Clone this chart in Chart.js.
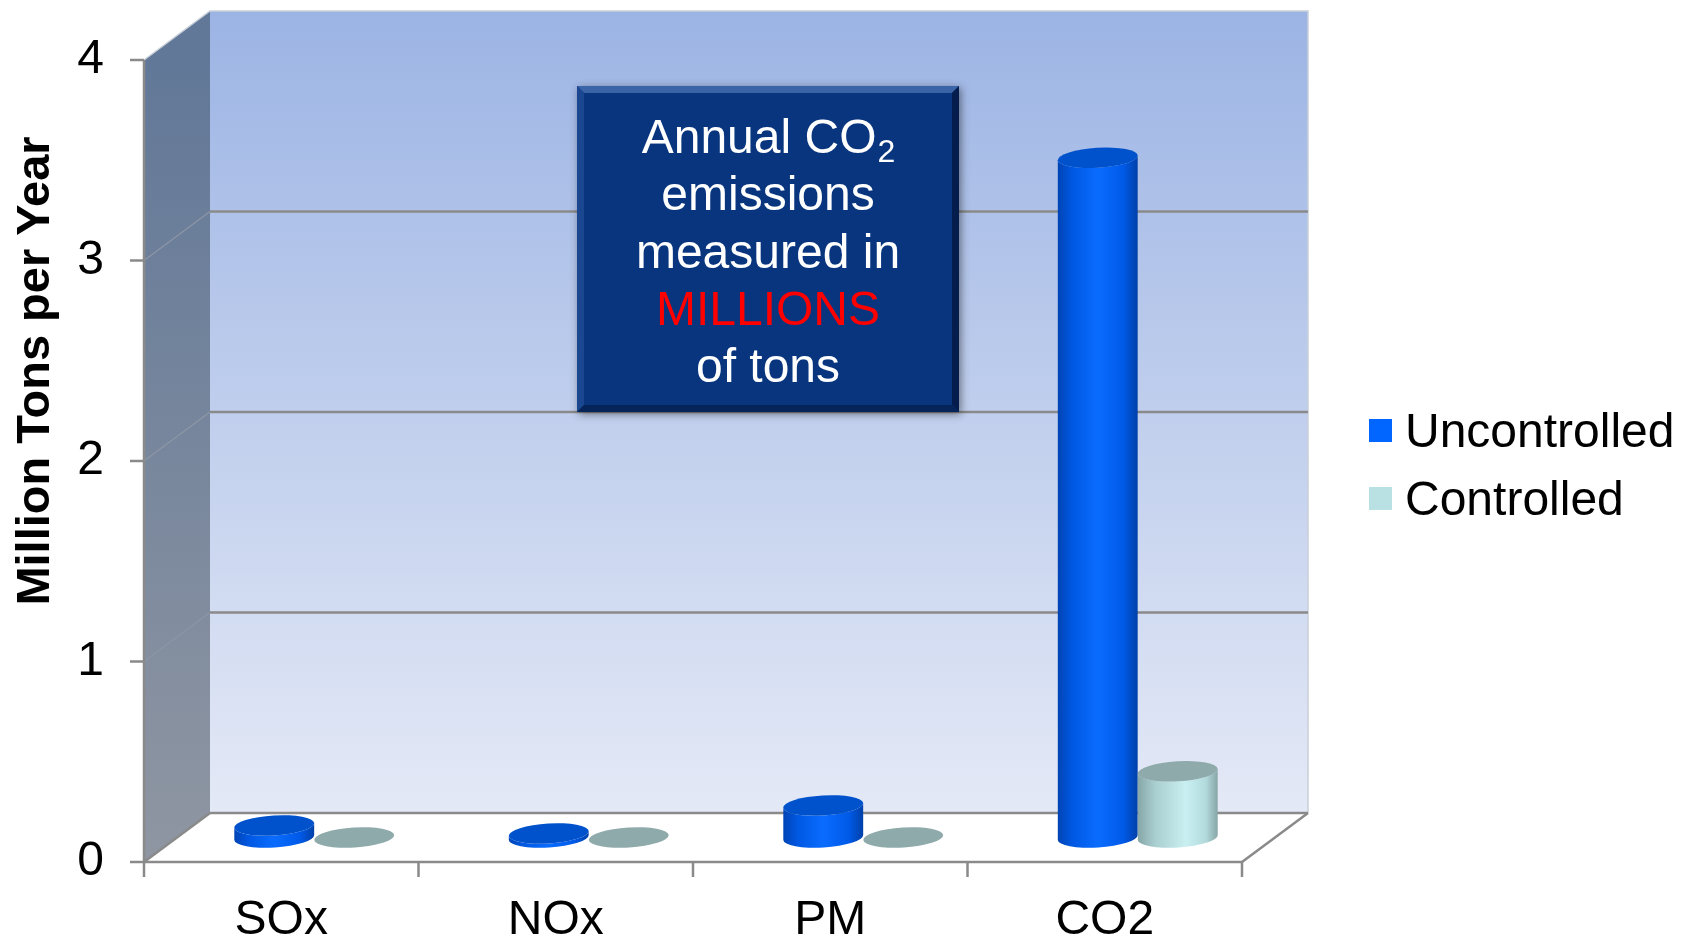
<!DOCTYPE html>
<html>
<head>
<meta charset="utf-8">
<title>Annual emissions</title>
<script src="https://cdn.jsdelivr.net/npm/chart.js@4.4.1/dist/chart.umd.min.js"></script>
<style>
  html, body { margin: 0; padding: 0; background: #ffffff; }
  #wrap { position: relative; width: 1688px; height: 941px; }
</style>
</head>
<body>
<div id="wrap"><canvas id="chart" width="1688" height="941"></canvas></div>
<script>
// ---- data ----
const categories = ['SOx', 'NOx', 'PM', 'CO2'];
const seriesNames = ['Uncontrolled', 'Controlled'];
const uncontrolled = [0.06, 0.02, 0.16, 3.39];
const controlled = [0.0, 0.0, 0.0, 0.33];
const yTicks = [0, 1, 2, 3, 4];
const axisTitle = 'Million Tons per Year';
const noteLines = ['Annual CO|2', 'emissions', 'measured in', 'MILLIONS', 'of tons'];

// ---- look ----
const FONT = '"Liberation Sans", Arial, sans-serif';
const DEPTH_X = 66, DEPTH_Y = -49;     // offset of the back wall
const CAP_RY = 10;                      // vertical radius of the cylinder caps
const CAP_TILT = -0.06;                 // slight perspective tilt of the caps
const seriesColors = ['#0066ff', '#b9e0e2'];

function sideGradient(ctx, x0, x1, idx) {
  const g = ctx.createLinearGradient(x0, 0, x1, 0);
  if (idx === 0) {
    g.addColorStop(0, '#0044b4');
    g.addColorStop(0.18, '#0058e2');
    g.addColorStop(0.5, '#0a6cff');
    g.addColorStop(0.82, '#005ae8');
    g.addColorStop(1, '#0040a8');
  } else {
    g.addColorStop(0, '#86a6a7');
    g.addColorStop(0.22, '#aacfd1');
    g.addColorStop(0.6, '#c9eff1');
    g.addColorStop(0.85, '#b2dadc');
    g.addColorStop(1, '#87a5a6');
  }
  return g;
}
const capColors = ['#0052cc', '#8eaaaa'];

const scene = {
  id: 'scene',
  beforeDraw(chart) {
    const { ctx } = chart;
    const xs = chart.scales.x, ys = chart.scales.y;
    const L = xs.left, R = xs.right;
    const y0 = ys.getPixelForValue(yTicks[0]);
    const yTop = ys.getPixelForValue(yTicks[yTicks.length - 1]);
    ctx.save();
    // back wall
    let g = ctx.createLinearGradient(0, yTop + DEPTH_Y, 0, y0 + DEPTH_Y);
    g.addColorStop(0, '#9cb4e4');
    g.addColorStop(1, '#e4e9f6');
    ctx.fillStyle = g;
    ctx.fillRect(L + DEPTH_X, yTop + DEPTH_Y, R - L, y0 - yTop);
    // side wall
    g = ctx.createLinearGradient(0, yTop, 0, y0);
    g.addColorStop(0, '#627898');
    g.addColorStop(1, '#8f96a2');
    ctx.fillStyle = g;
    ctx.beginPath();
    ctx.moveTo(L, yTop);
    ctx.lineTo(L + DEPTH_X, yTop + DEPTH_Y);
    ctx.lineTo(L + DEPTH_X, y0 + DEPTH_Y);
    ctx.lineTo(L, y0);
    ctx.closePath();
    ctx.fill();
    // floor
    ctx.fillStyle = '#ffffff';
    ctx.beginPath();
    ctx.moveTo(L, y0);
    ctx.lineTo(R, y0);
    ctx.lineTo(R + DEPTH_X, y0 + DEPTH_Y);
    ctx.lineTo(L + DEPTH_X, y0 + DEPTH_Y);
    ctx.closePath();
    ctx.fill();
    // wall outlines
    ctx.strokeStyle = '#c9cfd9';
    ctx.lineWidth = 1.5;
    ctx.beginPath();
    ctx.moveTo(L, yTop);
    ctx.lineTo(L + DEPTH_X, yTop + DEPTH_Y);
    ctx.lineTo(R + DEPTH_X, yTop + DEPTH_Y);
    ctx.lineTo(R + DEPTH_X, y0 + DEPTH_Y);
    ctx.stroke();
    // gridlines on the back wall and the side wall
    yTicks.forEach((v, i) => {
      const y = ys.getPixelForValue(v);
      if (i > 0 && i < yTicks.length - 1) {
        ctx.strokeStyle = '#8d96a6';
        ctx.lineWidth = 1.2;
        ctx.beginPath();
        ctx.moveTo(L, y);
        ctx.lineTo(L + DEPTH_X, y + DEPTH_Y);
        ctx.stroke();
      }
      if (i < yTicks.length - 1) {
        ctx.strokeStyle = '#8a8a8a';
        ctx.lineWidth = 2.5;
        ctx.beginPath();
        ctx.moveTo(L + DEPTH_X, y + DEPTH_Y);
        ctx.lineTo(R + DEPTH_X, y + DEPTH_Y);
        ctx.stroke();
      }
    });
    // floor edges
    ctx.strokeStyle = '#8a8a8a';
    ctx.lineWidth = 2.5;
    ctx.beginPath();
    ctx.moveTo(L, y0);
    ctx.lineTo(L + DEPTH_X, y0 + DEPTH_Y);
    ctx.moveTo(R, y0);
    ctx.lineTo(R + DEPTH_X, y0 + DEPTH_Y);
    ctx.stroke();
    // axes and tick marks
    ctx.strokeStyle = '#8a8a8a';
    ctx.lineWidth = 2.5;
    ctx.beginPath();
    ctx.moveTo(L, yTop);
    ctx.lineTo(L, y0);
    ctx.lineTo(R, y0);
    yTicks.forEach(v => {
      const y = ys.getPixelForValue(v);
      ctx.moveTo(L - 14, y);
      ctx.lineTo(L, y);
    });
    for (let i = 0; i <= categories.length; i++) {
      const x = L + (R - L) * i / categories.length;
      ctx.moveTo(x, y0);
      ctx.lineTo(x, y0 + 15);
    }
    ctx.stroke();
    ctx.restore();
  },
  beforeDatasetDraw() {
    return false;
  },
  afterDatasetsDraw(chart) {
    const { ctx } = chart;
    const ox = DEPTH_X / 2, oy = DEPTH_Y / 2;
    for (let j = 0; j < categories.length; j++) {
      for (let d = 0; d < chart.data.datasets.length; d++) {
        const bar = chart.getDatasetMeta(d).data[j];
        const p = bar.getProps(['x', 'y', 'base', 'width'], true);
        const cx = p.x + ox, top = p.y + oy, base = p.base + oy;
        const rx = p.width / 2;
        ctx.save();
        if (base - top > 0.5) {
          ctx.beginPath();
          ctx.ellipse(cx, base, rx, CAP_RY, CAP_TILT, 0, Math.PI);
          ctx.ellipse(cx, top, rx, CAP_RY, CAP_TILT, Math.PI, 0, true);
          ctx.closePath();
          ctx.fillStyle = sideGradient(ctx, cx - rx, cx + rx, d);
          ctx.fill();
        }
        ctx.beginPath();
        ctx.ellipse(cx, top, rx, CAP_RY, CAP_TILT, 0, Math.PI * 2);
        ctx.fillStyle = capColors[d];
        ctx.fill();
        ctx.restore();
      }
    }
  },
  afterDraw(chart) {
    const { ctx } = chart;
    ctx.save();
    // axis title
    ctx.translate(36, 371);
    ctx.rotate(-Math.PI / 2);
    ctx.font = 'bold 47px ' + FONT;
    ctx.fillStyle = '#000000';
    ctx.textAlign = 'center';
    ctx.textBaseline = 'middle';
    ctx.fillText(axisTitle, 0, 0);
    ctx.restore();

    // legend
    ctx.save();
    ctx.font = '48px ' + FONT;
    ctx.textBaseline = 'middle';
    ctx.textAlign = 'left';
    seriesNames.forEach((name, i) => {
      const cy = 431 + i * 68;
      ctx.fillStyle = seriesColors[i];
      ctx.fillRect(1369, cy - 12, 23, 23);
      ctx.fillStyle = '#000000';
      ctx.fillText(name, 1405, cy + 3);
    });
    ctx.restore();

    // note box
    const bx = 577, by = 86, bw = 382, bh = 326, bev = 7;
    ctx.save();
    ctx.shadowColor = 'rgba(0,0,0,0.45)';
    ctx.shadowBlur = 8;
    ctx.shadowOffsetX = 2;
    ctx.shadowOffsetY = 2;
    ctx.fillStyle = '#08357e';
    ctx.fillRect(bx, by, bw, bh);
    ctx.restore();
    ctx.save();
    const bevel = (pts, col) => {
      ctx.beginPath();
      ctx.moveTo(pts[0][0], pts[0][1]);
      for (let k = 1; k < pts.length; k++) ctx.lineTo(pts[k][0], pts[k][1]);
      ctx.closePath();
      ctx.fillStyle = col;
      ctx.fill();
    };
    bevel([[bx, by], [bx + bw, by], [bx + bw - bev, by + bev], [bx + bev, by + bev]], '#3a63a8');
    bevel([[bx, by], [bx + bev, by + bev], [bx + bev, by + bh - bev], [bx, by + bh]], '#1b4690');
    bevel([[bx + bw, by], [bx + bw, by + bh], [bx + bw - bev, by + bh - bev], [bx + bw - bev, by + bev]], '#041d4c');
    bevel([[bx, by + bh], [bx + bw, by + bh], [bx + bw - bev, by + bh - bev], [bx + bev, by + bh - bev]], '#05245a');
    ctx.fillStyle = '#08357e';
    ctx.fillRect(bx + bev, by + bev, bw - 2 * bev, bh - 2 * bev);

    ctx.textBaseline = 'middle';
    const cxText = bx + bw / 2;
    noteLines.forEach((line, i) => {
      const y = 140 + i * 57.2;
      ctx.fillStyle = line === 'MILLIONS' ? '#ff0000' : '#ffffff';
      if (line.indexOf('|') >= 0) {
        const [main, sub] = line.split('|');
        ctx.font = '48px ' + FONT;
        const wMain = ctx.measureText(main).width;
        ctx.font = '32px ' + FONT;
        const wSub = ctx.measureText(sub).width;
        const x0 = cxText - (wMain + wSub) / 2;
        ctx.textAlign = 'left';
        ctx.font = '48px ' + FONT;
        ctx.fillText(main, x0, y);
        ctx.font = '32px ' + FONT;
        ctx.fillText(sub, x0 + wMain + 1, y + 13);
      } else {
        ctx.textAlign = 'center';
        ctx.font = '48px ' + FONT;
        ctx.fillText(line, cxText, y);
      }
    });
    ctx.restore();
  }
};

new Chart(document.getElementById('chart'), {
  type: 'bar',
  data: {
    labels: categories,
    datasets: [
      { label: seriesNames[0], data: uncontrolled, backgroundColor: seriesColors[0] },
      { label: seriesNames[1], data: controlled, backgroundColor: seriesColors[1] }
    ]
  },
  options: {
    responsive: false,
    devicePixelRatio: 1,
    animation: false,
    events: [],
    categoryPercentage: 0.583,
    barPercentage: 1.0,
    layout: { padding: { left: 0, top: 60, right: 446, bottom: 0 } },
    plugins: {
      legend: { display: false },
      tooltip: { enabled: false },
      title: { display: false }
    },
    scales: {
      x: {
        grid: { display: false, drawTicks: false },
        border: { display: false },
        ticks: { color: '#000000', font: { family: FONT, size: 48 }, padding: 30, maxRotation: 0 },
        afterFit(scale) { scale.height = 79; scale.paddingLeft = 0; scale.paddingRight = 0; }
      },
      y: {
        min: yTicks[0],
        max: yTicks[yTicks.length - 1],
        afterBuildTicks(scale) { scale.ticks = yTicks.map(v => ({ value: v })); },
        grid: { display: false, drawTicks: false },
        border: { display: false },
        ticks: { color: '#000000', font: { family: FONT, size: 48 }, padding: 40 },
        afterFit(scale) { scale.width = 144; scale.paddingTop = 0; scale.paddingBottom = 0; }
      }
    }
  },
  plugins: [scene]
});
</script>
</body>
</html>
